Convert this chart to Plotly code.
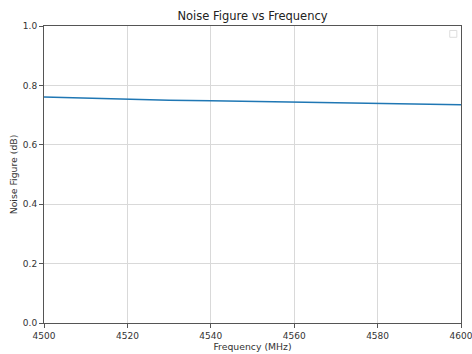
import plotly.graph_objects as go

freq_mhz = [4500, 4510, 4520, 4530, 4540, 4550, 4560, 4570, 4580, 4590, 4600]
noise_figure_db = [0.761, 0.757, 0.753, 0.750, 0.748, 0.746, 0.744, 0.742, 0.741, 0.739, 0.735]

x_ticks = [4500, 4520, 4540, 4560, 4580, 4600]
y_ticks = [0.0, 0.2, 0.4, 0.6, 0.8, 1.0]

font_family = "DejaVu Sans"

fig = go.Figure()
fig.add_trace(go.Scatter(
    x=freq_mhz, y=noise_figure_db, mode="lines",
    line=dict(color="#1f77b4", width=1.5),
    showlegend=False,
))

axis_common = dict(
    showline=True, linecolor="#555555", linewidth=1, mirror=True,
    showgrid=True, gridcolor="#d9d9d9", gridwidth=1,
    ticks="outside", ticklen=4, tickcolor="#555555",
    tickfont=dict(family=font_family, size=9, color="#333333"),
    zeroline=False, automargin=False, ticklabeloverflow="allow",
)

fig.update_layout(
    width=472, height=354,
    margin=dict(l=44, r=11, t=26, b=31),
    paper_bgcolor="white", plot_bgcolor="white",
    title=dict(text="Noise Figure vs Frequency", x=0.535, xanchor="center",
               y=0.955, yanchor="middle", automargin=False,
               font=dict(family=font_family, size=11.5, color="#222222")),
    xaxis=dict(range=[4500, 4600], tickvals=x_ticks,
               ticktext=[str(v) for v in x_ticks],
               title=dict(text="Frequency (MHz)", standoff=2,
                          font=dict(family=font_family, size=9.3, color="#333333")),
               **axis_common),
    yaxis=dict(range=[0, 1.0], tickvals=y_ticks,
               ticktext=[f"{v:.1f}" for v in y_ticks],
               title=dict(text="Noise Figure (dB)", standoff=3,
                          font=dict(family=font_family, size=9.3, color="#333333")),
               **axis_common),
    shapes=[dict(type="rect", xref="paper", yref="paper",
                 x0=0.973, x1=0.99, y0=0.962, y1=0.985,
                 line=dict(color="#dddddd", width=1), fillcolor="white")],
)

fig.write_html(
    "out.html",
    config={"displayModeBar": False},
    post_script="document.body.style.margin='0';document.body.style.overflow='hidden';",
)
